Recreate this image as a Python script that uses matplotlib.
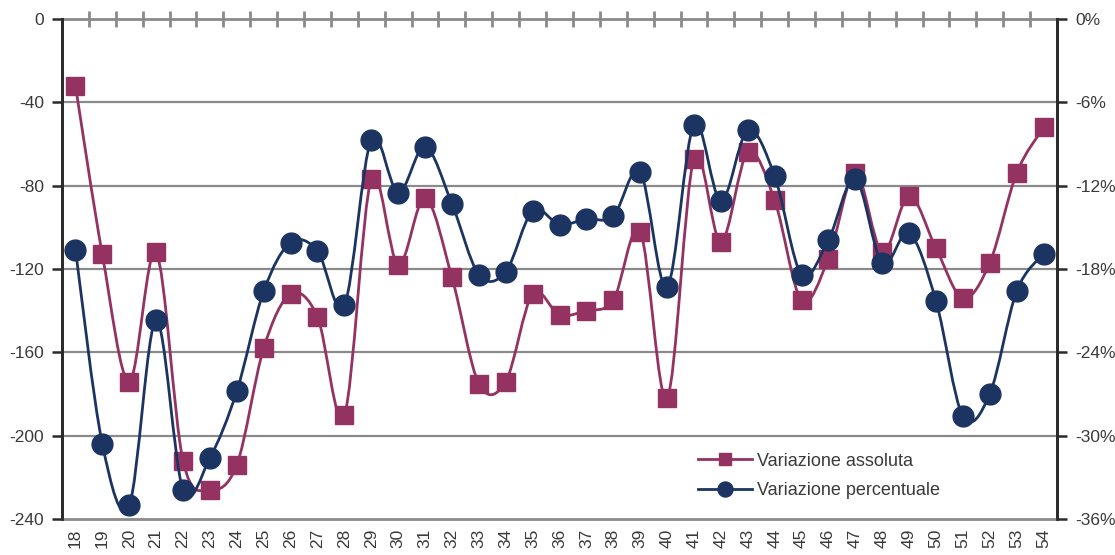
import numpy as np
import matplotlib
matplotlib.use("Agg")
import matplotlib.pyplot as plt
from matplotlib.path import Path
from matplotlib.patches import PathPatch
from matplotlib.lines import Line2D
from matplotlib.ticker import FixedLocator, FuncFormatter

plt.rcParams['font.family'] = ['Liberation Sans', 'DejaVu Sans']
plt.rcParams['axes.unicode_minus'] = False

# Data
ages = list(range(18, 55))
abs_change = [-32, -113, -174, -112, -212, -226, -214, -158, -132, -143, -190,
              -77, -118, -86, -124, -175, -174, -132, -142, -140, -135, -102,
              -182, -67, -107, -64, -87, -135, -115, -74, -112, -85, -110,
              -134, -117, -74, -52]
pct_change = [-16.6, -30.6, -35.0, -21.7, -33.9, -31.6, -26.8, -19.6, -16.1,
              -16.7, -20.6, -8.7, -12.5, -9.2, -13.3, -18.4, -18.2, -13.8,
              -14.8, -14.4, -14.2, -11.0, -19.3, -7.6, -13.1, -8.0, -11.3,
              -18.4, -15.9, -11.5, -17.6, -15.4, -20.3, -28.6, -27.0, -19.6,
              -16.9]
left_ticks = [0, -40, -80, -120, -160, -200, -240]
right_ticks = [0, -6, -12, -18, -24, -30, -36]
labels = ["Variazione assoluta", "Variazione percentuale"]

MAROON = "#943262"
NAVY = "#1b3461"
GRID = "#8a8a8a"
SPINE = "#2b2b2b"
TEXT = "#3a3a3a"


def smooth_path(xs, ys):
    """Cubic Bezier path through the points (Catmull-Rom style smoothing)."""
    pts = np.column_stack([xs, ys]).astype(float)
    n = len(pts)
    verts = [pts[0]]
    codes = [Path.MOVETO]
    for i in range(n - 1):
        p0 = pts[max(i - 1, 0)]
        p1 = pts[i]
        p2 = pts[i + 1]
        p3 = pts[min(i + 2, n - 1)]
        c1 = p1 + (p2 - p0) / 6.0
        c2 = p2 - (p3 - p1) / 6.0
        verts += [c1, c2, p2]
        codes += [Path.CURVE4] * 3
    return Path(verts, codes)


fig = plt.figure(figsize=(11.15, 5.55), dpi=100)
ax = fig.add_axes([62 / 1115, 1 - 519 / 555, (1057 - 62) / 1115, 500 / 555])
ax2 = ax.twinx()

LW = 2.0
SQ = 12.5
CI = 15

# Absolute change (left axis)
ax.add_patch(PathPatch(smooth_path(ages, abs_change), fill=False,
                       edgecolor=MAROON, lw=LW, zorder=3))
ax.plot(ages, abs_change, linestyle='none', marker='s', ms=SQ,
        color=MAROON, zorder=4)

# Percentage change (right axis)
ax2.add_patch(PathPatch(smooth_path(ages, pct_change), fill=False,
                        edgecolor=NAVY, lw=LW, zorder=3))
ax2.plot(ages, pct_change, linestyle='none', marker='o', ms=CI,
         color=NAVY, zorder=4)

ax.set_xlim(17.5, 54.5)
ax.set_ylim(-240, 0)
ax2.set_ylim(-36, 0)

# Gridlines
for v in left_ticks[1:-1]:
    ax.axhline(v, color=GRID, lw=1.6, zorder=1)

# Spines
for s in ('top', 'bottom'):
    ax.spines[s].set_color(GRID)
    ax.spines[s].set_linewidth(2)
for a in (ax, ax2):
    a.spines['left'].set_color(SPINE)
    a.spines['right'].set_color(SPINE)
    a.spines['left'].set_linewidth(2)
    a.spines['right'].set_linewidth(2)
    a.spines['top'].set_visible(a is ax)
    a.spines['bottom'].set_visible(a is ax)
ax.spines['top'].set_zorder(2)

# X axis: labels at bottom, category separators on the top line
ax.xaxis.set_major_locator(FixedLocator(ages))
ax.set_xticklabels([str(a) for a in ages], rotation=90, fontsize=12.5, color=TEXT)
ax.tick_params(axis='x', which='major', length=0, pad=7, bottom=True, top=False)
ax.xaxis.set_minor_locator(FixedLocator(np.arange(18.5, 54.5, 1.0)))
ax.tick_params(axis='x', which='minor', top=True, bottom=False, direction='inout',
               length=11, width=2, color=GRID)

# Y axes
ax.yaxis.set_major_locator(FixedLocator(left_ticks))
ax.tick_params(axis='y', direction='out', length=7, width=1.8, color=SPINE,
               labelsize=12.5, labelcolor=TEXT, pad=6)
ax2.yaxis.set_major_locator(FixedLocator(right_ticks))
ax2.yaxis.set_major_formatter(FuncFormatter(lambda v, p: f"{int(round(v))}%"))
ax2.tick_params(axis='y', direction='out', length=7, width=1.8, color=SPINE,
                labelsize=12.5, labelcolor=TEXT, pad=6)

# Legend
handles = [
    Line2D([], [], color=MAROON, lw=LW, marker='s', ms=SQ),
    Line2D([], [], color=NAVY, lw=LW, marker='o', ms=CI),
]
leg = ax2.legend(handles, labels, loc='center left',
                 bbox_to_anchor=(698 / 1115, 1 - 476 / 555),
                 bbox_transform=fig.transFigure, frameon=False, fontsize=13,
                 handlelength=3.0, handletextpad=0.25, labelspacing=0.7,
                 borderpad=0, borderaxespad=0, markerscale=0.72)
for t in leg.get_texts():
    t.set_color(TEXT)

fig.savefig("out.png", dpi=100)
